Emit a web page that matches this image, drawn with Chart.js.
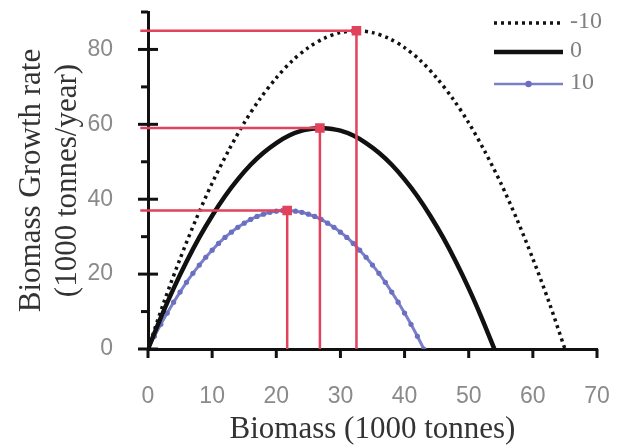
<!DOCTYPE html>
<html>
<head>
<meta charset="utf-8">
<script src="https://cdn.jsdelivr.net/npm/chart.js@4"></script>
<style>
  html, body { margin: 0; padding: 0; background: #fff; }
  #wrap { width: 618px; height: 445px; }
</style>
</head>
<body>
<div id="wrap"><canvas id="chart" width="618" height="445"></canvas></div>
<script>
// values (biomass in 1000 tonnes, growth in 1000 tonnes/year)
const seriesNames = ['-10', '0', '10'];

const biomassMinus10 = [0, 2.5, 5, 7.5, 10, 12.5, 15, 17.5, 20, 22.5, 25, 27.5, 30, 32.5,
  35, 37.5, 40, 42.5, 45, 47.5, 50, 52.5, 55, 57.5, 60, 62.5, 65];
const growthMinus10 = [0, 12.6, 24.1, 34.7, 44.3, 52.8, 60.4, 66.9, 72.4, 77.0, 80.5, 83.0, 84.5, 85,
  84.5, 83.0, 80.5, 77.0, 72.4, 66.9, 60.4, 52.8, 44.3, 34.7, 24.1, 12.6, 0];

const biomassZero = [0, 2, 4, 6, 8, 10, 12, 14, 16, 18, 20, 22, 24, 26, 27, 28, 30, 32, 34,
  36, 38, 40, 42, 44, 46, 48, 50, 52, 54];
const growthZero = [0, 8.4, 16.2, 23.3, 29.8, 35.6, 40.8, 45.3, 49.2, 52.4, 55.0, 57.0, 58.3, 58.9, 59, 58.9, 58.3, 57.0, 55.0,
  52.4, 49.2, 45.3, 40.8, 35.6, 29.8, 23.3, 16.2, 8.4, 0];

const biomassPlus10 = [0, 1, 2, 3, 4, 5, 6, 7, 8, 9, 10, 11, 12, 13, 14, 15, 16, 17, 18, 19, 20, 21,
  22, 23, 24, 25, 26, 27, 28, 29, 30, 31, 32, 33, 34, 35, 36, 37, 38, 39, 40, 41, 42, 43];
const growthPlus10 = [0, 3.4, 6.6, 9.6, 12.5, 15.2, 17.8, 20.2, 22.4, 24.5, 26.4, 28.2, 29.8, 31.2, 32.5, 33.6, 34.6, 35.4, 36.0, 36.5, 36.8, 37.0,
  37.0, 36.8, 36.5, 36.0, 35.4, 34.6, 33.6, 32.5, 31.2, 29.8, 28.2, 26.4, 24.5, 22.4, 20.2, 17.8, 15.2, 12.5, 9.6, 6.6, 3.4, 0];

// maximum growth points marked with red guide lines
const peakBiomass = [32.5, 26.8, 21.7];
const peakGrowth = [85, 59, 37];
const guideStart = -1.2;

const xTicks = [0, 10, 20, 30, 40, 50, 60, 70];
const yTicks = [0, 20, 40, 60, 80];

const RED = '#e2425c';
const BLUE = '#7a7fc9';

function pts(xs, ys) {
  return xs.map((x, i) => ({ x: x, y: ys[i] }));
}

const guides = peakBiomass.map((b, i) => ({
  data: [{ x: guideStart, y: peakGrowth[i] }, { x: b, y: peakGrowth[i] }, { x: b, y: 0 }],
  borderColor: RED,
  backgroundColor: RED,
  borderWidth: 2.5,
  pointStyle: 'rect',
  pointRadius: ctx => ctx.dataIndex === 1 ? 5 : 0,
  pointHoverRadius: 0,
  tension: 0,
  clip: false,
  order: 0
}));

const curves = [
  {
    label: seriesNames[0],
    data: pts(biomassMinus10, growthMinus10),
    borderColor: '#111',
    borderWidth: 3.5,
    borderDash: [3, 4],
    pointRadius: 0,
    tension: 0.3,
    order: 1
  },
  {
    label: seriesNames[1],
    data: pts(biomassZero, growthZero),
    borderColor: '#111',
    borderWidth: 4.5,
    pointRadius: 0,
    tension: 0.3,
    order: 1
  },
  {
    label: seriesNames[2],
    data: pts(biomassPlus10, growthPlus10),
    borderColor: BLUE,
    backgroundColor: '#6a6fbf',
    borderWidth: 3,
    pointRadius: 2.6,
    pointBorderWidth: 0,
    tension: 0.3,
    order: 1
  }
];

// tick marks: major y ticks cross the axis, minor ones sit on the left
const axisMarks = {
  id: 'axisMarks',
  afterDraw(chart) {
    const ctx = chart.ctx;
    const x = chart.scales.x, y = chart.scales.y;
    const left = chart.chartArea.left, bottom = chart.chartArea.bottom;
    ctx.save();
    ctx.strokeStyle = '#111';
    ctx.lineWidth = 3;
    for (let v = 0; v <= 90; v += 10) {
      const py = y.getPixelForValue(v);
      ctx.beginPath();
      if (yTicks.includes(v)) {
        ctx.moveTo(left - 10, py); ctx.lineTo(left + 10, py);
      } else {
        ctx.moveTo(left - 7, py); ctx.lineTo(left, py);
      }
      ctx.stroke();
    }
    xTicks.forEach(v => {
      const px = x.getPixelForValue(v);
      ctx.beginPath();
      ctx.moveTo(px, bottom); ctx.lineTo(px, bottom + 9);
      ctx.stroke();
    });
    ctx.restore();
  }
};

// legend placed inside the plot, top right
const innerLegend = {
  id: 'innerLegend',
  afterDraw(chart) {
    const ctx = chart.ctx;
    const rows = [23, 52, 84];
    const x0 = 494, x1 = 563;
    ctx.save();
    curves.forEach((ds, i) => {
      const yy = rows[i];
      ctx.beginPath();
      ctx.strokeStyle = ds.borderColor;
      ctx.lineWidth = i === 2 ? 2.5 : ds.borderWidth;
      ctx.setLineDash(ds.borderDash || []);
      ctx.moveTo(x0, yy); ctx.lineTo(x1, yy);
      ctx.stroke();
      ctx.setLineDash([]);
      if (ds.pointRadius) {
        ctx.beginPath();
        ctx.fillStyle = ds.backgroundColor;
        ctx.arc((x0 + x1) / 2, yy, 3.2, 0, Math.PI * 2);
        ctx.fill();
      }
      ctx.fillStyle = '#808080';
      ctx.font = '24px "Liberation Serif"';
      ctx.textBaseline = 'middle';
      ctx.textAlign = 'left';
      ctx.fillText(ds.label, 570, yy - 1);
    });
    ctx.restore();
  }
};

new Chart(document.getElementById('chart').getContext('2d'), {
  type: 'line',
  data: { datasets: [...guides, ...curves] },
  options: {
    responsive: false,
    animation: false,
    layout: { padding: { top: 12, right: 21, left: 0, bottom: 0 } },
    plugins: {
      legend: { display: false },
      tooltip: { enabled: false }
    },
    scales: {
      x: {
        type: 'linear',
        min: 0,
        max: 70,
        afterBuildTicks: s => { s.ticks = xTicks.map(v => ({ value: v })); },
        grid: { display: false, drawTicks: true, tickLength: 10 },
        border: { display: true, color: '#111', width: 3 },
        ticks: {
          color: '#8a8a8a',
          font: { family: '"Liberation Sans"', size: 23 },
          padding: 24,
          maxRotation: 0
        },
        title: {
          display: true,
          text: 'Biomass (1000 tonnes)',
          color: '#333',
          font: { family: '"Liberation Serif"', size: 31, lineHeight: 1 },
          padding: { top: 0, bottom: 0 }
        },
        afterFit: s => { s.height = 96; s.paddingLeft = 0; s.paddingRight = 0; }
      },
      y: {
        type: 'linear',
        min: 0,
        max: 90,
        afterBuildTicks: s => { s.ticks = yTicks.map(v => ({ value: v })); },
        grid: { display: false, drawTicks: true, tickLength: 10 },
        border: { display: true, color: '#111', width: 3 },
        ticks: {
          color: '#8a8a8a',
          font: { family: '"Liberation Sans"', size: 23 },
          padding: 25
        },
        title: {
          display: true,
          text: ['Biomass Growth rate', '(1000 tonnes/year)'],
          color: '#333',
          font: { family: '"Liberation Serif"', size: 31, lineHeight: 1.16 },
          padding: { top: 14, bottom: 0 }
        },
        afterFit: s => { s.width = 148; s.paddingTop = 0; s.paddingBottom = 0; }
      }
    }
  },
  plugins: [axisMarks, innerLegend]
});
</script>
</body>
</html>
